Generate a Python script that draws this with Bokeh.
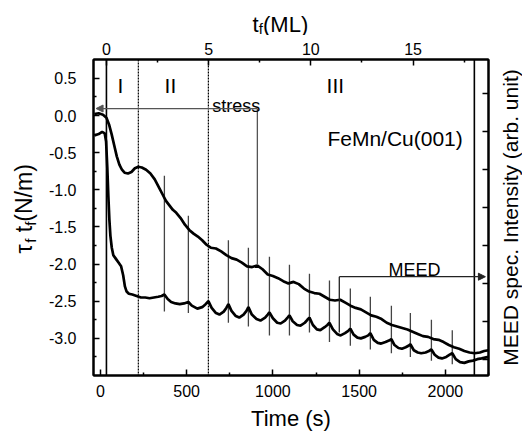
import math
from bokeh.plotting import figure
from bokeh.layouts import column, row
from bokeh.models import (LinearAxis, Range1d, FixedTicker, PrintfTickFormatter,
                          Span, Arrow, NormalHead)
from bokeh.core.properties import value
from bokeh.embed import file_html
from bokeh.resources import INLINE

FONT = "Liberation Sans"

# ---------------- data ----------------
stress_t = [-35, -10, 15, 35, 50, 65, 80, 95, 110, 125, 140, 160, 180, 200, 220, 240, 265, 290,
            315, 340, 360, 380, 400, 420, 440, 465, 490, 515, 540, 565, 590, 615, 640, 670, 700,
            730, 760, 790, 820, 850, 880, 910, 940, 970, 1000, 1030, 1060, 1090, 1120, 1150,
            1180, 1210, 1240, 1270, 1300, 1330, 1360, 1390, 1420, 1450, 1480, 1510, 1540, 1570,
            1600, 1630, 1660, 1690, 1720, 1750, 1780, 1810, 1840, 1870, 1900, 1930, 1960, 1990,
            2020, 2050, 2080, 2110, 2140, 2170, 2200, 2225, 2250]
stress_v = [0.02, 0.03, 0.01, -0.03, -0.12, -0.25, -0.40, -0.55, -0.66, -0.73, -0.77, -0.78,
            -0.76, -0.71, -0.69, -0.70, -0.73, -0.78, -0.86, -0.97, -1.06, -1.15, -1.21, -1.27,
            -1.31, -1.38, -1.47, -1.54, -1.59, -1.63, -1.68, -1.74, -1.78, -1.79, -1.83, -1.88,
            -1.92, -1.94, -1.98, -2.03, -2.04, -2.02, -2.07, -2.14, -2.16, -2.19, -2.23, -2.26,
            -2.24, -2.27, -2.33, -2.37, -2.39, -2.40, -2.44, -2.48, -2.49, -2.48, -2.52, -2.56,
            -2.59, -2.61, -2.65, -2.69, -2.71, -2.74, -2.79, -2.82, -2.84, -2.86, -2.88, -2.91,
            -2.94, -2.97, -2.98, -3.01, -3.02, -3.05, -3.09, -3.12, -3.14, -3.17, -3.19, -3.20,
            -3.19, -3.17, -3.16]

meed_t = [-35, -10, 10, 25, 33, 40, 46, 52, 58, 66, 75, 90, 105, 120, 132, 142, 152, 165, 185,
          210, 235, 260, 285, 310, 335, 355, 371, 390, 410, 435, 460, 485, 510, 530, 562, 590,
          610, 626, 645, 670, 690, 715, 730, 742, 760, 785, 805, 830, 847, 858, 878, 905, 928,
          955, 970, 980, 1000, 1025, 1045, 1070, 1085, 1096, 1115, 1140, 1160, 1185, 1200, 1212,
          1232, 1255, 1275, 1300, 1316, 1328, 1348, 1372, 1393, 1418, 1437, 1449, 1468, 1490,
          1510, 1535, 1553, 1565, 1585, 1608, 1628, 1653, 1673, 1687, 1705, 1728, 1748, 1770,
          1786, 1797, 1817, 1840, 1860, 1885, 1905, 1919, 1938, 1960, 1980, 2005, 2025, 2040,
          2060, 2085, 2110, 2135, 2160, 2185, 2210, 2250]
meed_v = [-0.27, -0.25, -0.22, -0.24, -0.35, -0.70, -1.08, -1.40, -1.62, -1.78, -1.88, -1.93,
          -1.98, -2.03, -2.15, -2.30, -2.37, -2.40, -2.41, -2.43, -2.45, -2.45, -2.46, -2.45,
          -2.44, -2.43, -2.41, -2.47, -2.51, -2.53, -2.54, -2.53, -2.51, -2.56, -2.60, -2.58,
          -2.54, -2.50, -2.59, -2.66, -2.68, -2.64, -2.59, -2.54, -2.63, -2.70, -2.72, -2.68,
          -2.63, -2.58, -2.68, -2.74, -2.76, -2.72, -2.68, -2.65, -2.73, -2.79, -2.80, -2.76,
          -2.72, -2.69, -2.77, -2.82, -2.83, -2.79, -2.75, -2.72, -2.82, -2.88, -2.89, -2.85,
          -2.82, -2.79, -2.88, -2.94, -2.96, -2.93, -2.90, -2.87, -2.95, -2.99, -3.00, -2.98,
          -2.96, -2.93, -3.02, -3.06, -3.07, -3.05, -3.03, -3.01, -3.09, -3.13, -3.14, -3.12,
          -3.10, -3.08, -3.16, -3.19, -3.20, -3.19, -3.17, -3.15, -3.22, -3.26, -3.27, -3.25,
          -3.22, -3.20, -3.28, -3.32, -3.33, -3.31, -3.30, -3.28, -3.27, -3.25]

# vertical markers at MEED maxima (integer ML)
marker_t = [371, 510, 742, 858, 980, 1096, 1212, 1328, 1449, 1565, 1687, 1797, 1919, 2040]
marker_top = [-0.81, -1.35, -1.68, -1.78, -1.90, -2.01, -2.13, -2.22, -2.33, -2.44, -2.56,
              -2.66, -2.75, -2.89]
marker_bottom = [-2.64, -2.66, -2.79, -2.84, -2.96, -2.96, -2.92, -3.05, -3.10, -3.15, -3.20,
                 -3.25, -3.30, -3.35]

# region boundaries (s)
solid_bounds = [35, 2168]
dashed_bounds = [220, 626]

region_labels = ["I", "II", "III"]
region_label_t = [116, 406, 1362]
region_label_v = [0.40, 0.40, 0.40]

y_ticks = [-3.0, -2.5, -2.0, -1.5, -1.0, -0.5, 0.0, 0.5]
y_minor = [-3.25, -2.75, -2.25, -1.75, -1.25, -0.75, -0.25, 0.25]
x_ticks = [0, 500, 1000, 1500, 2000]
x_minor = [250, 750, 1250, 1750, 2250]
ml_ticks = [0, 5, 10, 15]
ml_minor = [2.5, 7.5, 12.5, 17.5]
meed_ticks = [0, 1, 2, 3, 4, 5, 6, 7]

# stress / MEED indicator brackets
stress_arrow_t = [910, -25]
stress_arrow_v = 0.094
stress_drop_v = -2.00
meed_arrow_t = [1385, 2232]
meed_arrow_v = -2.17
meed_rise_v = -2.92

# ---------------- main figure ----------------
X0, X1 = -40, 2250
Y0, Y1 = -3.5, 0.754
T0_ML, SEC_PER_ML = 35, 118.5
yr = Range1d(Y0, Y1)


def strip(w, h, y_range):
    fig = figure(width=w, height=h, x_range=Range1d(0, w), y_range=y_range, title=None,
                 x_axis_type=None, y_axis_type=None,
                 output_backend="svg", toolbar_location=None, min_border=0)
    fig.background_fill_color = "white"
    fig.border_fill_color = "white"
    fig.outline_line_color = None
    fig.grid.visible = False
    return fig


p = figure(width=455, height=400, x_range=Range1d(X0, X1), y_range=yr,
           output_backend="svg", toolbar_location=None, title=None,
           min_border_left=53, min_border_right=7, min_border_top=24, min_border_bottom=60)
p.background_fill_color = "white"
p.border_fill_color = "white"
p.xgrid.grid_line_color = None
p.ygrid.grid_line_color = None
p.outline_line_color = "black"
p.outline_line_width = 2

p.extra_x_ranges = {"ml": Range1d((X0 - T0_ML) / SEC_PER_ML, (X1 - T0_ML) / SEC_PER_ML)}
p.extra_y_ranges = {"meed": Range1d(-0.42, 7.895)}


def style_axis(ax, label_size="16px"):
    ax.axis_line_width = 2
    ax.axis_line_color = "black"
    ax.major_tick_in = 6
    ax.major_tick_out = 0
    ax.minor_tick_in = 3
    ax.minor_tick_out = 0
    ax.major_tick_line_width = 1.5
    ax.minor_tick_line_width = 1.5
    ax.major_label_text_font = FONT
    ax.major_label_text_font_size = label_size
    ax.major_label_text_color = "black"
    ax.axis_label_text_font = FONT
    ax.axis_label_text_font_style = "normal"
    ax.axis_label_text_font_size = "22px"
    ax.axis_label_text_color = "black"


xa = p.xaxis[0]
xa.ticker = FixedTicker(ticks=x_ticks, minor_ticks=x_minor)
xa.axis_label = "Time (s)"
style_axis(xa)
xa.major_label_standoff = 9
xa.axis_label_standoff = 6

ya = p.yaxis[0]
ya.ticker = FixedTicker(ticks=y_ticks, minor_ticks=y_minor)
ya.formatter = PrintfTickFormatter(format="%.1f")
style_axis(ya)
ya.major_label_standoff = 17

top = LinearAxis(x_range_name="ml", ticker=FixedTicker(ticks=ml_ticks, minor_ticks=ml_minor))
style_axis(top)
top.major_label_standoff = 5
p.add_layout(top, "above")

right = LinearAxis(y_range_name="meed", ticker=FixedTicker(ticks=meed_ticks))
style_axis(right, label_size="1px")
right.minor_tick_line_color = None
right.major_label_text_color = None
right.major_label_standoff = 0
p.add_layout(right, "right")

# region boundaries
for t in solid_bounds:
    p.add_layout(Span(location=t, dimension="height", line_color="black", line_width=1.6))
for t in dashed_bounds:
    p.add_layout(Span(location=t, dimension="height", line_color="black", line_width=1.2,
                      line_dash="2 1"))

# marker lines
p.segment(x0=marker_t, y0=marker_bottom, x1=marker_t, y1=marker_top,
          line_color="#444444", line_width=1.3)

# curves
p.line(stress_t, stress_v, line_color="black", line_width=2.7)
p.line(meed_t, meed_v, line_color="black", line_width=2.7)

# stress bracket (gray)
p.segment(x0=[stress_arrow_t[0]], y0=[stress_arrow_v], x1=[stress_arrow_t[0]], y1=[stress_drop_v],
          line_color="#555555", line_width=1.3)
p.add_layout(Arrow(end=NormalHead(size=7, fill_color="#555555", line_color="#555555"),
                   x_start=stress_arrow_t[0], y_start=stress_arrow_v,
                   x_end=stress_arrow_t[1], y_end=stress_arrow_v,
                   line_color="#555555", line_width=1.3))
# MEED bracket
p.segment(x0=[meed_arrow_t[0]], y0=[meed_rise_v], x1=[meed_arrow_t[0]], y1=[meed_arrow_v],
          line_color="#222222", line_width=1.3)
p.add_layout(Arrow(end=NormalHead(size=7, fill_color="#222222", line_color="#222222"),
                   x_start=meed_arrow_t[0], y_start=meed_arrow_v,
                   x_end=meed_arrow_t[1], y_end=meed_arrow_v,
                   line_color="#222222", line_width=1.3))

# texts in the plot
p.text(x=region_label_t, y=region_label_v, text=region_labels, text_font=value(FONT),
       text_font_size="21px", text_align="center", text_baseline="middle", text_color="black")
p.text(x=[649], y=[0.125], text=["stress"], text_font=value(FONT), text_font_size="18px",
       text_align="left", text_baseline="alphabetic", text_color="black")
p.text(x=[1316], y=[-0.31], text=["FeMn/Cu(001)"], text_font=value(FONT), text_font_size="21px",
       text_align="left", text_baseline="alphabetic", text_color="black")
p.text(x=[1670], y=[-2.086], text=["MEED"], text_font=value(FONT), text_font_size="18px",
       text_align="left", text_baseline="alphabetic", text_color="black")

# ---------------- title strips ----------------
ROT = math.pi / 2
PX_Y = 74.3  # pixels per N/m on the main y scale

# top strip: t_f (ML)
top_fig = strip(522, 35, Range1d(0, 35))
top_fig.text(x=[252, 262.5], y=[11, 11], text=["t", " (ML)"], text_font=value(FONT),
             text_font_size="22px", text_align="left", text_baseline="alphabetic",
             text_color="black")
top_fig.text(x=[258.3], y=[7.5], text=["f"], text_font=value(FONT), text_font_size="15px",
             text_align="left", text_baseline="alphabetic", text_color="black")

# left strip: tau_f t_f (N/m)  (shares the main y scale, frames are aligned)
left_fig = strip(40, 400, yr)
ly = -1.857
left_fig.text(x=[23, 23, 23], y=[ly, ly + 21.2 / PX_Y, ly + 31.8 / PX_Y],
              text=["\u03c4", "t", " (N/m)"],
              text_font=value(FONT), text_font_size="23px", angle=ROT, text_align="left",
              text_baseline="middle", text_color="black")
left_fig.text(x=[30, 30], y=[ly + 10.6 / PX_Y, ly + 27.6 / PX_Y], text=["f", "f"],
              text_font=value(FONT), text_font_size="15px", angle=ROT, text_align="left",
              text_baseline="middle", text_color="black")

# right strip: MEED spec. Intensity (arb. unit)  (shares the main y scale)
right_fig = strip(27, 400, yr)
right_fig.text(x=[15], y=[-1.373], text=["MEED spec. Intensity (arb. unit)"],
               text_font=value(FONT), text_font_size="21px", angle=ROT, text_align="center",
               text_baseline="middle", text_color="black")

layout = column(top_fig, row(left_fig, p, right_fig, spacing=0), spacing=0)

open("out.html", "w").write(file_html(layout, INLINE))
